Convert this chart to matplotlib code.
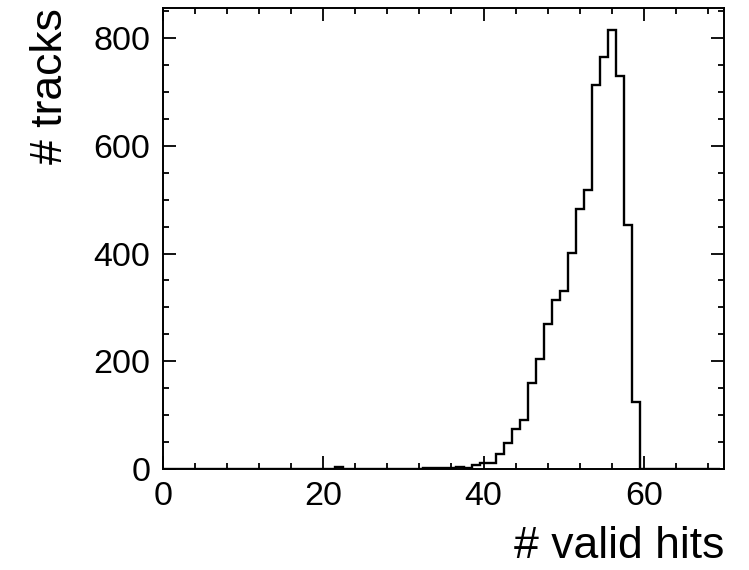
import numpy as np
import matplotlib
matplotlib.use("Agg")
import matplotlib.pyplot as plt
from matplotlib.ticker import MultipleLocator

# number of valid hits per track, one bin per integer value (0 .. 69)
hit_values = list(range(0, 70))
track_counts = [
    0, 0, 0, 0, 0, 0, 0, 0, 0, 0,
    0, 0, 0, 0, 0, 0, 0, 0, 0, 0,
    0, 0, 3, 0, 0, 0, 0, 0, 0, 0,
    0, 0, 0, 1, 1, 2, 2, 4, 2, 7,
    11, 12, 27, 48, 75, 91, 159, 204, 269, 314,
    331, 401, 483, 517, 713, 764, 815, 730, 452, 125,
    0, 0, 0, 0, 0, 0, 0, 0, 0, 0,
]
x_label = "# valid hits"
y_label = "# tracks"


def main():
    plt.rcParams["font.family"] = ["Liberation Sans", "DejaVu Sans"]

    fig = plt.figure(figsize=(7.49, 5.70), dpi=100)
    ax = fig.add_axes([0.2176, 0.1772, 0.9666 - 0.2176, 0.986 - 0.1772])

    edges = np.append(np.array(hit_values) - 0.5, hit_values[-1] + 0.5)
    ax.stairs(track_counts, edges, color="black", linewidth=1.7)

    ax.set_xlim(0, 70)
    ax.set_ylim(0, max(track_counts) * 1.05)

    ax.xaxis.set_major_locator(MultipleLocator(20))
    ax.xaxis.set_minor_locator(MultipleLocator(4))
    ax.yaxis.set_major_locator(MultipleLocator(200))
    ax.yaxis.set_minor_locator(MultipleLocator(50))

    ax.tick_params(which="both", direction="in", top=True, right=True, width=1.3)
    ax.tick_params(which="major", length=9.5, labelsize=24.5, pad=9)
    ax.tick_params(which="minor", length=4.5)
    for spine in ax.spines.values():
        spine.set_linewidth(1.4)

    ax.set_xlabel(x_label, fontsize=32, loc="right", labelpad=10)
    ax.set_ylabel(y_label, fontsize=32, loc="top")
    ax.yaxis.set_label_coords(-0.164, 1.0)

    fig.savefig("out.png", dpi=100)


if __name__ == "__main__":
    main()
